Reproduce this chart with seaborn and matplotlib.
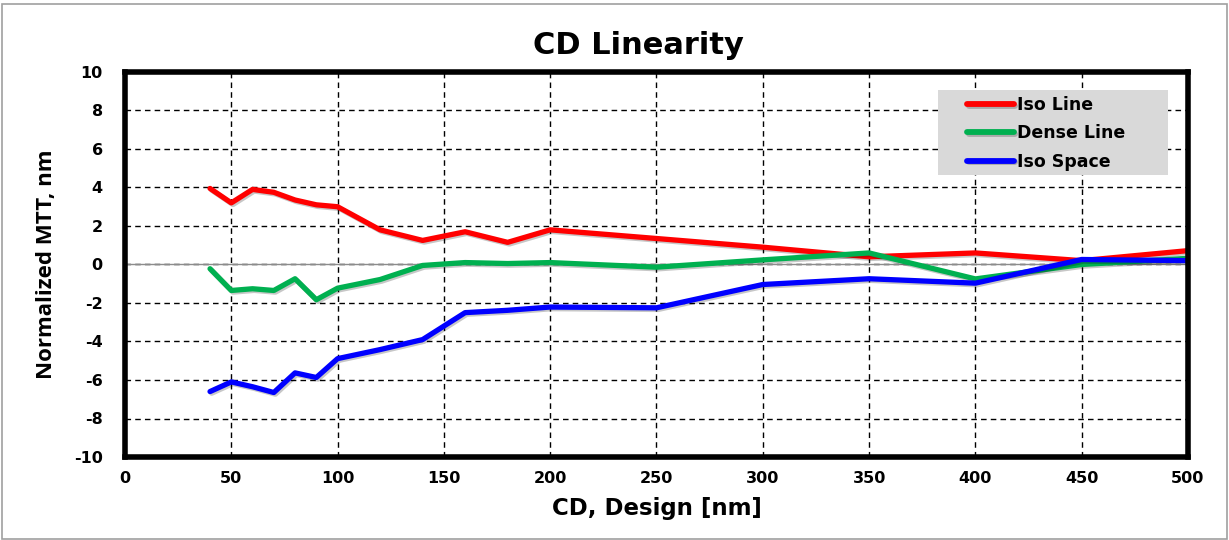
import matplotlib
matplotlib.use("Agg")
import matplotlib.pyplot as plt
import matplotlib.patheffects as pe
import seaborn as sns
import pandas as pd

# design CD values [nm]
cd_design = [40, 50, 60, 70, 80, 90, 100, 120, 140, 160, 180, 200, 250, 300, 350, 400, 450, 500]

# normalized MTT [nm] per feature type
iso_line = [3.95, 3.2, 3.9, 3.75, 3.35, 3.1, 3.0, 1.8, 1.25, 1.7, 1.15, 1.8, 1.35, 0.9, 0.4, 0.6, 0.2, 0.72]
dense_line = [-0.22, -1.35, -1.26, -1.35, -0.74, -1.83, -1.23, -0.78, -0.05, 0.1, 0.05, 0.1, -0.14, 0.24, 0.6, -0.75, 0.0, 0.32]
iso_space = [-6.6, -6.1, -6.35, -6.65, -5.63, -5.87, -4.89, -4.42, -3.9, -2.5, -2.38, -2.21, -2.25, -1.04, -0.74, -0.97, 0.26, 0.2]

series_names = ["Iso Line", "Dense Line", "Iso Space"]
series_colors = ["#ff0000", "#00b050", "#0000ff"]

frames = []
for name, vals in zip(series_names, [iso_line, dense_line, iso_space]):
    frames.append(pd.DataFrame({"CD": cd_design, "MTT": vals, "Feature": name}))
df = pd.concat(frames, ignore_index=True)

sns.set_style("white")
plt.rcParams['font.family'] = ['DejaVu Sans']
plt.rcParams['axes.unicode_minus'] = False
plt.rcParams['text.color'] = 'black'
plt.rcParams['axes.labelcolor'] = 'black'
plt.rcParams['xtick.color'] = 'black'
plt.rcParams['ytick.color'] = 'black'

fig = plt.figure(figsize=(12.29, 5.40), dpi=100)
ax = fig.add_axes([0.1017, 0.1537, 0.8649, 0.713])

# zero line
ax.axhline(0, color="#8c8c8c", lw=1.0, zorder=1)

sns.lineplot(data=df, x="CD", y="MTT", hue="Feature", hue_order=series_names,
             palette=dict(zip(series_names, series_colors)), lw=3.8,
             sort=False, ax=ax, zorder=3,
             path_effects=[pe.SimpleLineShadow(offset=(1.2, -1.2), alpha=0.22), pe.Normal()])

ax.set_xlim(0, 500)
ax.set_ylim(-10, 10)
ax.set_xticks(range(0, 501, 50))
ax.set_yticks(range(-10, 11, 2))
ax.grid(True, color="black", linestyle=(0, (4, 3)), lw=1.0)
ax.set_axisbelow(True)
for s in ax.spines.values():
    s.set_linewidth(4)
    s.set_color("black")
    s.set_zorder(5)

ax.tick_params(axis="both", length=0, labelsize=11.5)
ax.tick_params(axis="x", pad=10)
ax.tick_params(axis="y", pad=16)
for lab in ax.get_xticklabels() + ax.get_yticklabels():
    lab.set_fontweight("bold")

ax.set_title("CD Linearity", fontsize=22, fontweight="bold", pad=13, x=0.483)
ax.set_xlabel("CD, Design [nm]", fontsize=16.5, fontweight="bold", labelpad=8)
ax.set_ylabel("Normalized MTT, nm", fontsize=16, fontweight="bold", labelpad=12,
              family=["Open Sans", "DejaVu Sans"])

# legend background box
ax.add_patch(plt.Rectangle((0.765, 0.732), 0.216, 0.221, transform=ax.transAxes,
                           facecolor="#d9d9d9", edgecolor="none", zorder=4))
leg = ax.legend(loc="upper left", bbox_to_anchor=(0.792, 0.937), frameon=False,
                fontsize=12.5, handlelength=2.7, handletextpad=0.2,
                borderpad=0, borderaxespad=0, labelspacing=0.59)
leg.set_zorder(6)
for t in leg.get_texts():
    t.set_fontweight("bold")
for h in leg.get_lines():
    h.set_linewidth(4.2)
    h.set_solid_capstyle("round")

# light outer frame of the chart area
fig.patches.append(plt.Rectangle((0.002, 0.002), 0.996, 0.99, transform=fig.transFigure,
                                 fill=False, edgecolor="#a0a0a0", lw=1.2))

fig.savefig("out.png", dpi=100)
